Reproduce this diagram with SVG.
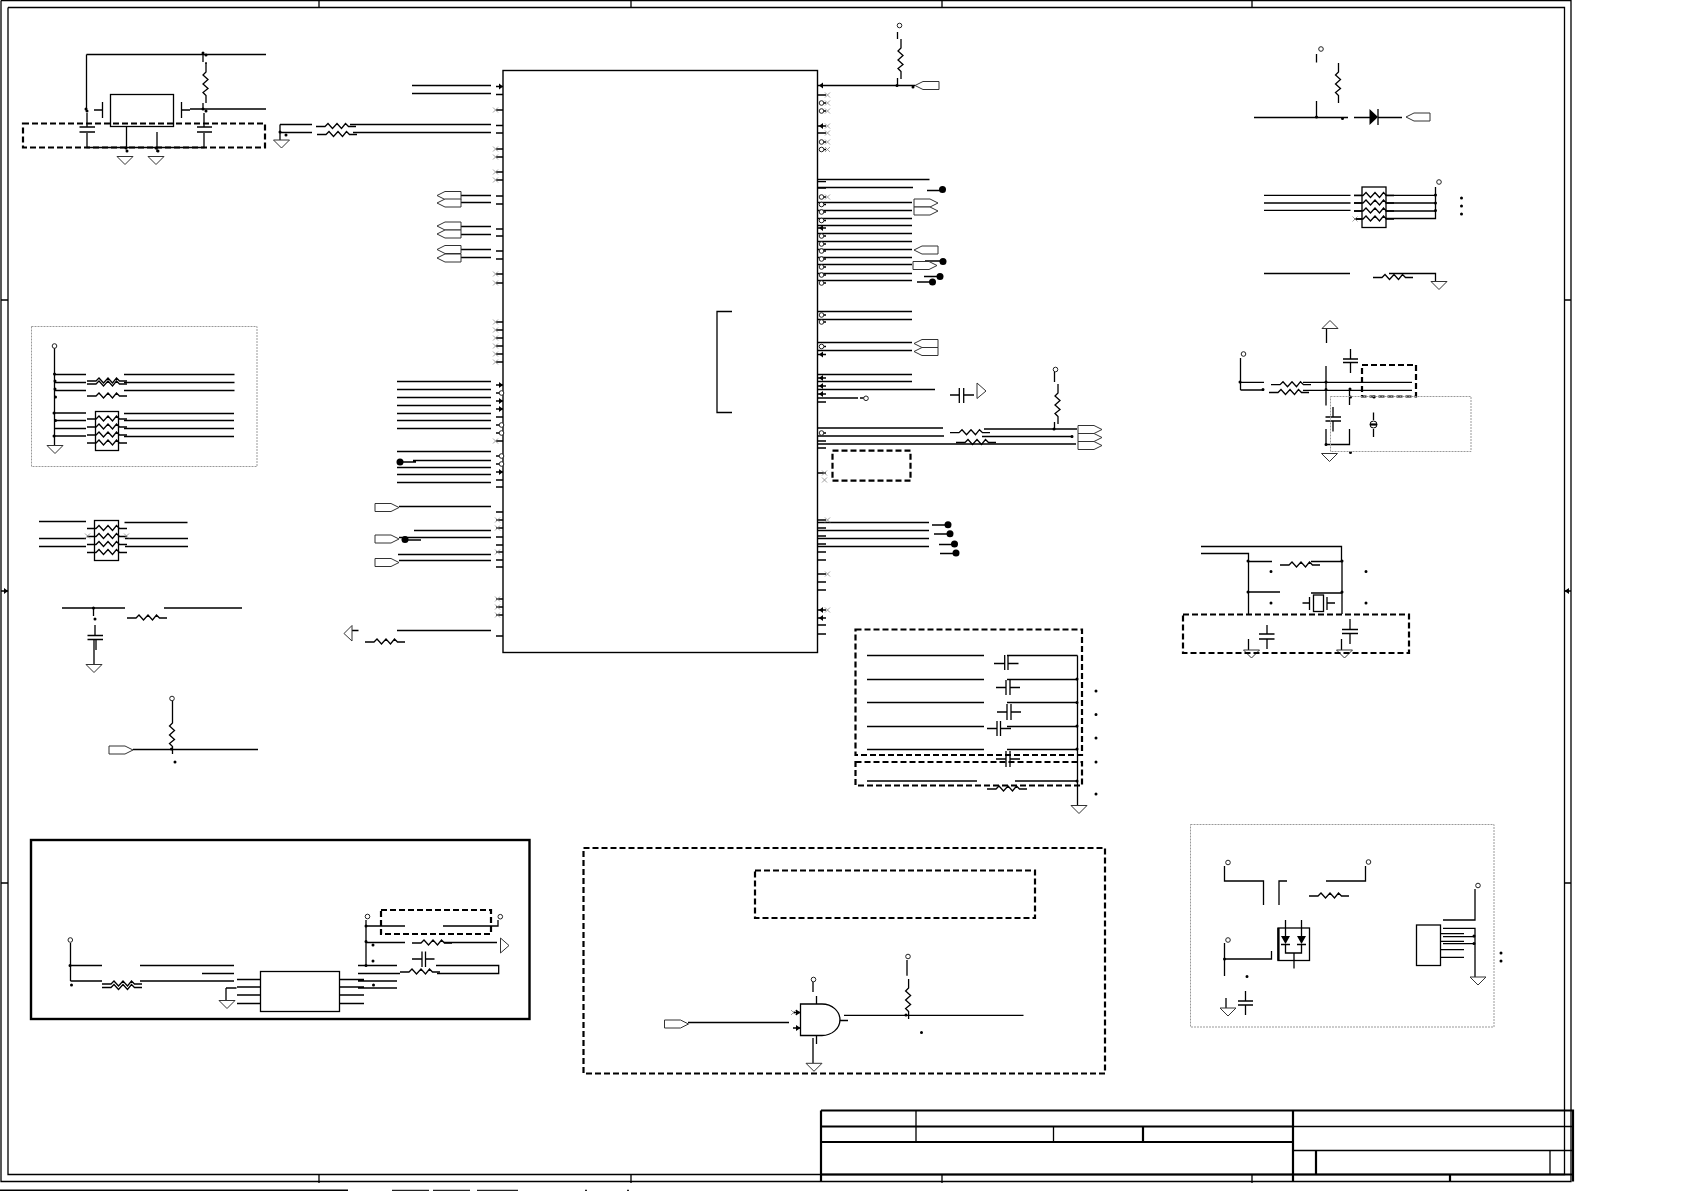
<svg xmlns="http://www.w3.org/2000/svg" xmlns:xlink="http://www.w3.org/1999/xlink" width="1685" height="1191" viewBox="0 0 1685 1191">
<style>
.w{fill:none;stroke:#000;stroke-width:1.3}
.t{fill:none;stroke:#000;stroke-width:2.2}
.f{fill:none;stroke:#000;stroke-width:1.3}
.dash{fill:none;stroke:#000;stroke-width:2.2;stroke-dasharray:6 3}
.dot{fill:none;stroke:#999;stroke-width:1;stroke-dasharray:2 1}
.d{fill:none;stroke:#000;stroke-width:3;stroke-linecap:round}
.xm{fill:none;stroke:#888;stroke-width:.8}
.sym{fill:#fff;stroke:#333;stroke-width:1}
.bl{fill:#000;stroke:none}
</style>
<defs>
<path id="R" class="w" d="M0 0H9l3-3 4.5 5 4.5-5 4.5 5 4-5 3 3H40"/>
<path id="RV" class="w" d="M0 0V9l-3 3 5 4.5-5 4.5 5 4.5-5 4 3 3V40"/>
<polygon id="G" class="sym" points="-8,0 8,0 0,8"/>
<polygon id="TL" class="sym" points="0,0 8,-4 24,-4 24,4 8,4"/>
<polygon id="TR" class="sym" points="0,-4 16,-4 24,0 16,4 0,4"/>
<polygon id="FR" class="sym" points="0,-7.5 0,7.5 8.5,0"/>
<circle id="o" r="2.3" fill="#fff" stroke="#222" stroke-width="1"/>
<circle id="B" r="3.5" fill="#000"/>
<polygon id="AL" class="bl" points="0,0 4,-3 4,3"/>
</defs>
<rect width="1685" height="1191" fill="#fff"/>

<g id="frame">
<path class="w" d="M1 .5H1571V1181.5H1V.5M8 7.5H1564.5V1174.5H8V7.5"/>
<path class="w" d="M319 0V7.5M631 0V7.5M942 0V7.5M1252 0V7.5M319 1174.5V1183M631 1174.5V1183M942 1174.5V1183M1252 1174.5V1183M1 300H8M1 591H8M1 883H8M1564.5 300H1571M1564.5 591H1571M1564.5 883H1571"/>
<polygon class="bl" points="8,591 4,588 4,594"/>
<polygon class="bl" points="1564.5,591 1569,588 1569,594"/>
<path class="t" d="M0 1190.5H348"/>
<path fill="none" stroke="#222" stroke-width="1.5" d="M392 1190.5H429M433 1190.5H470M477 1190.5H518M585 1190.5H587M627 1190.5H629"/>
</g>

<g id="title-block">
<path class="t" d="M821 1110.5H1573V1181.5M821 1110.5V1181.5M821 1126.5H1293M821 1142H1293M1143 1126.5V1142M1293 1110.5V1181.5M1316 1150.5V1174.5M1450 1174.5V1181.5M821 1174.5H1573"/>
<path class="w" d="M916 1110.5V1142M1053.5 1126.5V1142M1293 1126.5H1573M1293 1150.5H1573M1550 1150.5V1174.5"/>
</g>

<g id="connectors">
<path class="w" d="M86.5 54.5H266M86.5 54.5V109M87 113V127M87 133V147.5H204V133M204 113V127M94 110H102M181.5 110H190M190 109H266M203 54V62M206 62V64M203 103V109M126.5 127V147M157 132V152"/>
<path class="w" d="M280 124.5H312M280 132.5H312M280 124.5V140M350 124.5H491M353 132.5H491"/>
<path class="w" d="M412 85.5H491M412 93.5H491M459 195.5H491M459 202.5H491M459 226.5H491M459 234.5H491M459 249.5H491M459 257.5H491"/>
<path class="w" d="M397 381.5H491M397 389.5H491M397 397.5H491M397 405.5H491M397 413.5H491M397 420.5H491M397 428.5H491M397 451.5H491M413 460.5H491M400 462H416M397 467.5H491M397 474.5H491M397 482.5H491M399 506.5H491M414 530.5H491M405 540H421M399 537.5H491M398 554.5H491M399 560.5H491M397 630.5H491M352 630.5H358.5"/>
<path class="w" d="M818 85.5H915M897.5 32V39M897.5 78V85.5M818 179.5H929.5M818 187.5H913M927 190.5H942M818 202.5H912M818 210.5H912M818 218.5H912M818 225.5H912M818 233.5H912M818 241.5H912M818 249.5H912M818 257.5H912M818 264.5H912M818 273.5H912M818 280.5H912M925 261H943M924 276.5H940M917 282H932M818 311.5H912M818 319.5H912M818 342.5H912M818 350.5H912M818 374.5H912M818 381.5H912M818 389.5H935M818 398H858M860 398H864M950 395H959M964 395H974M818 428H943M818 436H944M818 444H1076M984 429H1077M982 436.5H1073M1054.5 372V382M1054.5 422V430"/>
<path class="w" d="M818 522.5H929M818 530.5H929M818 538.5H929M818 546.5H929M932 525H948M934 534H950M939 544.5H954M940 553.5H956"/>
<path class="w" d="M867 655.5H984M867 679.5H984M867 702.5H984M867 726.5H984M867 749.5H984M867 781H977M1007 655.5H1077.5M1007 679.5H1077.5M1007 702.5H1077.5M1007 726.5H1077.5M1007 749.5H1077.5M1015 781H1077.5M1077.5 655.5V805"/>
<path class="w" d="M1316.5 54V62.5M1254 117.5H1348M1316.5 101V117.5M1354 117.5H1370M1378 117.5H1402"/>
<path class="w" d="M1264 195.3H1350.5M1264 203H1350.5M1264 210.3H1350.5M1354 195.3H1362M1354 203H1362M1354 211H1362M1355 219H1362M1385.5 195.3H1435.5M1385.5 203H1435.5M1385.5 211H1435.5M1385.5 218.5H1435.5V187M1264 273.5H1350M1389 273.5H1435.5V281"/>
<path class="w" d="M1326.5 328V343M1350.5 349V359M1350.5 363V373M1240.5 358V390M1240.5 382.3H1264M1240.5 390H1264M1303 382.3H1412M1303 390.3H1412M1326 366V405.5M1333 407V417M1333 421V431.5M1326 429V444.5H1349.5V429M1349.5 390V405M1373.5 412.5V420M1373.5 429V437"/>
<path class="w" d="M54.5 348V445M54 374.5H86M54 382.5H86M54 390.5H86M54 413H86M54 420.5H86M54 428.5H86M54 436H86M124 374.5H234.5M124 382.5H234.5M124 390.5H234.5M124 413.5H234M124 420.5H234M124 428.5H234M124 436.5H234"/>
<path class="w" d="M39 521.5H86M39 538.5H86M39 546.5H86M124.5 522.5H187.5M125 538.5H188M125 546.5H188M62 608H125M93.5 608V616M95 625V635.5M94 640V664M96 640V650M164 608H242"/>
<path class="w" d="M172.5 701V714M133 749.5H258"/>
<path class="w" d="M70.5 943V981M70.5 965.5H102M70.5 981H102M140 965.5H234M202 973.5H234M140 981H234M237 979.5H260.5M237 987H260.5M237 995H260.5M237 1003.5H260.5M339.5 979.5H364M339.5 987H364M339.5 995H364M339.5 1003.5H364M226 988H236.5M226 988V1000M366 920V965.5M366 926H405M366 942.5H405M358 965.5H397M358 973.5H400M437 973.5H498.7V965.5H436M358 981H397M358 988H397M444 942.5H497M412 959H422M425.5 959H434.5M443 926H498V920"/>
<path class="w" d="M688 1022.5H789M793 1012.5H800M793 1028H800M813 982V992M816.5 996V1004M816.5 1036V1044M813 1038V1063M840 1020.5H848M844 1015.3H1023.5M907 960V975.7"/>
<path class="w" d="M1201 546.5H1341.5V561M1201 553.5H1248.5V614M1248 561.5H1272M1311 561.5H1342M1342 561V614M1248 592H1280M1311 593H1342M1302.5 603H1309.5M1327 603H1335M1267 625V634M1267 639V649M1248.5 639V650M1350 619V629.5M1350 633.5V644M1341.5 639V650"/>
<path class="w" d="M1224.5 866V881H1263.5V905M1365.5 866V881H1326M1287 881H1279V905M1285.5 920V936M1301.5 920V936M1285.5 945V953H1301.5V945M1294 953V968.5M1224.5 943V976M1224.5 959H1271.5V951M1245.5 991V1001M1245.5 1005V1015M1226 998V1008M1475 889V920H1443M1443 928.3H1475V977M1440.7 933.7H1464M1443 936.7H1475M1440.7 941.3H1464M1443 943.7H1475M1440.7 949.7H1464M1440.7 957.3H1464"/>
<path class="d" d="M86 109h0M87 111h0M203 53h0M206 55h0M203 109h0M206 111h0M126 148h0M127 151h0M156 148h0M158 151h0M280 132h0M286 135h0M897 85.5h0M913 87h0M1054 429h0M1072 436.5h0M1077 679h0M1077 702.5h0M1077 726h0M1077 749h0M1077 781h0M1096 691h0M1096 714.5h0M1096 738h0M1096 762h0M1096 794h0M1316.5 117h0M1342.5 118.5h0M1435.5 195h0M1435.5 203h0M1435.5 210.5h0M1461.5 198h0M1461.5 206h0M1461.5 214h0M1240 382h0M1263 389.5h0M1326 382h0M1326 389.5h0M1350 389h0M1326 444.5h0M1374 397h0M1350.5 397h0M1350.5 452.5h0M54.5 374h0M55 381h0M55 389h0M55.5 397h0M54 413h0M55.5 420.5h0M54 436h0M93.5 608h0M95 619h0M171.5 749h0M175 762h0M70 965.5h0M71.5 985h0M366 926h0M366 941.5h0M366 965.5h0M373 945h0M373 961h0M373.5 985h0M906 1015h0M921.5 1032.5h0M1248 561h0M1342 561h0M1248 592h0M1342 592h0M1271 571.5h0M1366 571.5h0M1271 603h0M1366 603h0M1224.5 959h0M1247 976.5h0M1474 936h0M1474 943.5h0M1501 953h0M1501 961h0"/>
</g>

<g id="U-main">
<rect x="503" y="70.5" width="314.5" height="582" fill="none" stroke="#000" stroke-width="1.4"/>
<path class="w" d="M732 311.5H717V412.5H732"/>
<path class="w" d="M496 86.5H503M496 94.5H503M496 110H503M496 125.5H503M496 133H503M496 149H503M496 157H503M496 172H503M496 180H503M496 196H503M496 204H503M496 229H503M496 236H503M496 251H503M496 259H503M496 274H503M496 283H503M496 322H503M496 330H503M496 338H503M496 346H503M496 354H503M496 362H503M496 385H503M496 393H499M496 401H503M496 409H503M496 417H503M496 425H499M496 433H499M496 441H503M496 456H499M496 464H499M496 472H503M496 480H503M496 487H503M496 512H503M496 520H503M496 528H503M496 537H503M496 545H503M496 552H503M496 560H503M496 567H503M496 599H503M496 607H503M496 615H503M496 636H503"/>
<path class="w" d="M818 95H826M824 103H826M824 111H826M818 126H826M818 133H826M824 142H826M824 149.5H826M818 181.7H826M818 188H826M824 197H826M824 204.5H826M824 212H826M824 220.5H826M818 228H826M824 236H826M824 244H826M824 251H826M824 259H826M824 267H826M824 275H826M824 283H826M824 315H826M824 322H826M824 346.5H826M818 354.5H826M818 378H826M818 386H826M818 394H826M818 402H826M824 433H826M818 441H826M818 448H826M818 473H826M818 520H826M818 528H826M818 536H826M818 544H826M818 552H826M818 560H826M818 574H826M818 582H826M818 590H826M818 610H826M818 618H826M818 625H826M818 634H826"/>
<path class="xm" d="M493 107.5l5 5m0-5l-5 5M493 146.5l5 5m0-5l-5 5M493 154.5l5 5m0-5l-5 5M493 169.5l5 5m0-5l-5 5M493 177.5l5 5m0-5l-5 5M493 271.5l5 5m0-5l-5 5M493 280.5l5 5m0-5l-5 5M493 319.5l5 5m0-5l-5 5M493 327.5l5 5m0-5l-5 5M493 335.5l5 5m0-5l-5 5M493 343.5l5 5m0-5l-5 5M493 351.5l5 5m0-5l-5 5M493 359.5l5 5m0-5l-5 5M493 438.5l5 5m0-5l-5 5M495 517.5l5 5m0-5l-5 5M495 525.5l5 5m0-5l-5 5M495 549.5l5 5m0-5l-5 5M495 596.5l5 5m0-5l-5 5M495 604.5l5 5m0-5l-5 5M495 612.5l5 5m0-5l-5 5M825 92.5l5 5m0-5l-5 5M825 100.5l5 5m0-5l-5 5M825 108.5l5 5m0-5l-5 5M825 123.5l5 5m0-5l-5 5M825 130.5l5 5m0-5l-5 5M825 139.5l5 5m0-5l-5 5M825 147l5 5m0-5l-5 5M825 194.5l5 5m0-5l-5 5M822 470.5l5 5m0-5l-5 5M822 477.5l5 5m0-5l-5 5M825 517.5l5 5m0-5l-5 5M825 571.5l5 5m0-5l-5 5M825 607.5l5 5m0-5l-5 5"/>
<g>
<use href="#o" x="501.5" y="393"/><use href="#o" x="501.5" y="425"/><use href="#o" x="501.5" y="433"/><use href="#o" x="501.5" y="456"/><use href="#o" x="501.5" y="464"/>
<use href="#o" x="821.5" y="103"/><use href="#o" x="821.5" y="111"/><use href="#o" x="821.5" y="142"/><use href="#o" x="821.5" y="149.5"/><use href="#o" x="821.5" y="197"/><use href="#o" x="821.5" y="204.5"/><use href="#o" x="821.5" y="212"/><use href="#o" x="821.5" y="220.5"/><use href="#o" x="821.5" y="236"/><use href="#o" x="821.5" y="244"/><use href="#o" x="821.5" y="251"/><use href="#o" x="821.5" y="259"/><use href="#o" x="821.5" y="267"/><use href="#o" x="821.5" y="275"/><use href="#o" x="821.5" y="283"/><use href="#o" x="821.5" y="315"/><use href="#o" x="821.5" y="322"/><use href="#o" x="821.5" y="346.5"/><use href="#o" x="821.5" y="433"/>
<use href="#AL" x="819" y="85.5"/><use href="#AL" x="819" y="126"/><use href="#AL" x="819" y="228"/><use href="#AL" x="819" y="354.5"/><use href="#AL" x="819" y="378"/><use href="#AL" x="819" y="386"/><use href="#AL" x="819" y="394"/><use href="#AL" x="819" y="610"/><use href="#AL" x="819" y="618"/>
</g>
<polygon class="bl" points="503,86.5 499,83.5 499,89.5"/><polygon class="bl" points="503,385 499,382 499,388"/><polygon class="bl" points="503,401 499,398 499,404"/><polygon class="bl" points="503,409 499,406 499,412"/><polygon class="bl" points="503,472 499,469 499,475"/>
</g>

<g id="U-regulator">
<rect class="f" x="110.5" y="94.5" width="63" height="32"/>
<path class="w" d="M102.5 102V118M181.5 102V118M79.5 127H95M79.5 132H95M197 127H212M197 132H212"/>
<use href="#RV" x="206" y="63"/>
<use href="#G" x="125" y="156.5"/><use href="#G" x="156" y="156.5"/>
<rect class="dash" x="23" y="123.5" width="242" height="24"/>
</g>

<g id="R-top"><use href="#R" x="316" y="126.5"/><use href="#R" x="317" y="134.5"/><use href="#G" x="281.5" y="140"/></g>

<g id="tags-left">
<use href="#TL" x="437" y="195.5"/><use href="#TL" x="437" y="203"/>
<use href="#TL" x="437" y="226"/><use href="#TL" x="437" y="234"/>
<use href="#TL" x="437" y="249.5"/><use href="#TL" x="437" y="258"/>
<use href="#TR" x="375" y="507.5"/><use href="#TR" x="375" y="539"/><use href="#TR" x="375" y="562.5"/>
<use href="#B" x="400" y="462"/><use href="#B" x="405" y="539.5"/>
<polygon class="sym" points="344,633.5 352,625.5 352,641"/>
<use href="#R" x="365" y="642"/>
</g>

<g id="R-pull-box">
<rect class="dot" x="31.5" y="326.5" width="225.5" height="140"/>
<use href="#o" x="54.5" y="346"/>
<use href="#R" x="87" y="381"/><use href="#R" x="87" y="384"/><use href="#R" x="87" y="396"/>
<rect class="f" x="95.5" y="411.5" width="23" height="39"/>
<use href="#R" x="87" y="419"/><use href="#R" x="87" y="427"/><use href="#R" x="87" y="435"/><use href="#R" x="87" y="443"/>
<use href="#G" x="55" y="445.5"/>
</g>

<g id="R-pack-2">
<rect class="f" x="94.5" y="520.5" width="24" height="40"/>
<use href="#R" x="87" y="528.5"/><use href="#R" x="87" y="536.5"/><use href="#R" x="87" y="544.5"/><use href="#R" x="87" y="552.5"/>
<path class="xm" d="M85 533.5l5 5m0-5l-5 5M124 533.5l5 5m0-5l-5 5"/>
</g>

<g id="RC-left">
<path class="w" d="M87.5 635.5H103M87.5 639.5H103"/>
<use href="#R" x="127" y="618"/><use href="#G" x="94" y="664.5"/>
</g>

<g id="pull-left">
<use href="#o" x="172" y="698.5"/><use href="#RV" x="172.5" y="714"/><use href="#TR" x="109" y="750"/>
</g>

<g id="box-solid">
<rect x="31" y="840" width="498.5" height="179" fill="none" stroke="#000" stroke-width="2.4"/>
<use href="#o" x="70.3" y="940"/>
<use href="#R" x="102" y="984"/><use href="#R" x="102" y="987.5"/>
<rect class="f" x="260.5" y="971.5" width="79" height="40"/>
<use href="#G" x="227" y="1000.5"/>
<use href="#o" x="367.5" y="916.5"/><use href="#o" x="500.3" y="916.7"/>
<rect class="dash" x="381" y="910" width="110" height="24"/>
<use href="#R" x="412" y="943"/><use href="#R" x="400" y="972"/>
<path class="w" d="M422 951.5V967M425.5 951.5V967"/>
<use href="#FR" x="500.5" y="945.5"/>
</g>

<g id="box-dashed-gate">
<rect class="dash" x="583.5" y="848" width="521.5" height="225.5"/>
<rect class="dash" x="755" y="870.5" width="280" height="47.5"/>
<use href="#TR" x="664.5" y="1024"/>
<path class="f" d="M800.5 1004H822A18 15.75 0 0 1 822 1035.5H800.5Z"/>
<polygon class="bl" points="800.5,1012.5 796,1009.5 796,1015.5"/><polygon class="bl" points="800.5,1028 796,1025 796,1031"/>
<path class="xm" d="M791 1010l5 5m0-5l-5 5"/>
<use href="#o" x="813.5" y="979.5"/><use href="#o" x="908" y="956.5"/>
<use href="#RV" x="908.6" y="979"/><use href="#G" x="814" y="1063.3"/>
</g>

<g id="top-pull"><use href="#o" x="899.5" y="25.5"/><use href="#RV" x="901" y="39"/><use href="#TL" x="915" y="85.5"/></g>

<g id="tags-right">
<use href="#B" x="942.5" y="189.5"/>
<use href="#TR" x="914" y="203"/><use href="#TR" x="914" y="211"/>
<use href="#TL" x="914" y="250"/><use href="#TR" x="913" y="265.5"/>
<use href="#B" x="943" y="261.5"/><use href="#B" x="940" y="276.5"/><use href="#B" x="932.5" y="282"/>
<use href="#TL" x="914" y="343.5"/><use href="#TL" x="914" y="351.5"/>
<use href="#o" x="866" y="398.3"/>
<path class="w" d="M959.3 388V403M963.7 388V403"/>
<polygon class="sym" points="977,383 977,398.5 986,391"/>
<use href="#R" x="950" y="432.7"/><use href="#R" x="956" y="442.5"/>
<use href="#o" x="1055.5" y="369.5"/><use href="#RV" x="1058" y="384"/>
<use href="#TR" x="1078" y="429.5"/><use href="#TR" x="1078" y="437.5"/><use href="#TR" x="1078" y="445.5"/>
<rect class="dash" x="832.5" y="450.7" width="78" height="30"/>
<use href="#B" x="948" y="524.7"/><use href="#B" x="950" y="533.7"/><use href="#B" x="954.5" y="544"/><use href="#B" x="956" y="553"/>
</g>

<g id="decap-box">
<rect class="dash" x="855.5" y="629.5" width="226.5" height="125.5"/>
<rect class="dash" x="855.5" y="762" width="226.5" height="23.5"/>
<path class="w" d="M994 663.5H1004.7M1008 663.5H1018.5M1004.7 655V670M1008 655V670M996 687.5H1006M1010 687.5H1020M1006 680V695M1010 680V695M997 712H1007M1011 712H1021M1007 704V720M1011 704V720M987 728.5H997M1000.5 728.5H1011M997 721V736M1000.5 721V736M996 759H1006M1010 759H1020M1006 751V767M1010 751V767"/>
<use href="#R" x="987" y="789"/><use href="#G" x="1079" y="805.5"/>
</g>

<g id="led">
<use href="#o" x="1321" y="49"/><use href="#RV" x="1338.5" y="63"/>
<polygon class="bl" points="1369.5,109 1369.5,125 1378,117"/>
<path class="w" d="M1378 109V125"/>
<use href="#TL" x="1406" y="117"/>
</g>

<g id="R-pack-3">
<rect class="f" x="1362" y="187" width="24" height="40.5"/>
<use href="#R" x="1354" y="195.5" /><use href="#R" x="1354" y="203"/><use href="#R" x="1354" y="211"/><use href="#R" x="1354" y="219"/>
<use href="#o" x="1439" y="182"/>
<path class="xm" d="M1352.5 216.5l5 5m0-5l-5 5"/>
<use href="#R" x="1373" y="277.5"/><use href="#G" x="1439" y="281.5"/>
</g>

<g id="power-right">
<polygon class="sym" points="1330,320.5 1322,328.5 1338,328.5"/>
<use href="#o" x="1243.5" y="354"/>
<path class="w" d="M1343 359H1358M1343 362.5H1358M1325.5 417H1341M1325.5 421H1341"/>
<use href="#R" x="1271" y="384.7"/><use href="#R" x="1269" y="392.5"/>
<rect class="dash" x="1362" y="365" width="54" height="31.5"/>
<rect class="dot" x="1330.5" y="396.5" width="140.5" height="55"/>
<circle cx="1373.5" cy="424.5" r="3.5" fill="none" stroke="#000"/><path class="t" d="M1370 424.5H1377"/>
<use href="#G" x="1329.5" y="453.5"/>
</g>

<g id="crystal-box">
<use href="#R" x="1280" y="565"/>
<rect class="f" x="1313.5" y="595" width="10" height="16.5"/>
<path class="w" d="M1309.5 597V610M1327 597V610M1259 634H1274.5M1259 639H1274.5M1342 629.5H1358M1342 633.5H1358"/>
<use href="#G" x="1251.5" y="650"/><use href="#G" x="1344.5" y="650"/>
<rect class="dash" x="1183" y="614.5" width="226" height="38.5"/>
</g>

<g id="opto-box">
<rect class="dot" x="1190.5" y="824.5" width="303.5" height="202.5"/>
<use href="#o" x="1228" y="862.5"/><use href="#o" x="1368.5" y="862"/><use href="#o" x="1228" y="940"/><use href="#o" x="1478" y="885.5"/>
<use href="#R" x="1309" y="896"/>
<rect class="f" x="1278" y="928" width="31.5" height="32.5"/>
<path class="t" d="M1278.5 928V960.5"/>
<polygon class="bl" points="1281,936 1290,936 1285.5,944"/><polygon class="bl" points="1297,936 1306,936 1301.5,944"/>
<path class="w" d="M1281 944.5H1290M1297 944.5H1306M1238 1001H1253M1238 1005H1253"/>
<use href="#G" x="1228" y="1008"/>
<rect class="f" x="1416.5" y="925" width="24" height="40.5"/>
<use href="#G" x="1478" y="977"/>
</g>
</svg>
